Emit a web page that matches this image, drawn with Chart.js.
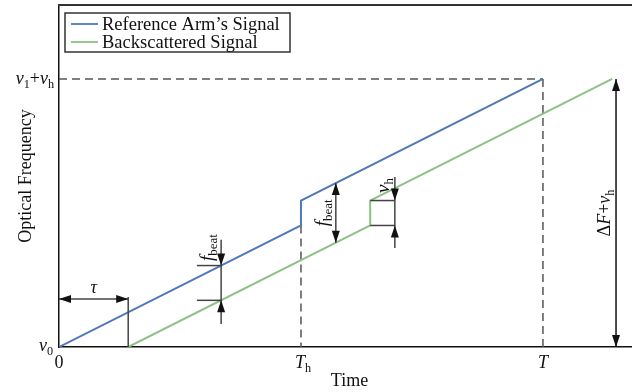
<!DOCTYPE html>
<html lang="en">
<head>
  <meta charset="UTF-8" />
  <title>Optical Frequency vs Time</title>
  <script src="https://cdn.jsdelivr.net/npm/chart.js"></script>
  <style>
    html, body { margin: 0; padding: 0; background: #fff; }
    #wrap { width: 632px; height: 392px; }
  </style>
</head>
<body>
  <div id="wrap"><canvas id="chirpChart" width="632" height="392"></canvas></div>

  <script>
    // time axis marks (T = 10, Th = T/2, tau = delay)
    const tau = 1.43;
    const timeTh = 5;
    const timeT = 10;
    const xTickLabels = ["0", "Th", "T"];

    // frequency marks (v0 = 0, v1 + vh = 10)
    const freqTop = 10;
    const freqHop = 0.93;

    // reference arm signal
    const refTimes = [0, 5, 5, 10];
    const refFreqs = [0, 4.535, 5.465, 10];

    // backscattered signal (delayed by tau)
    const backTimes = [1.43, 6.43, 6.43, 11.43];
    const backFreqs = [0, 4.535, 5.465, 10];

    const seriesNames = ["Reference Arm\u2019s Signal", "Backscattered Signal"];
    const blue = "#4f78b8";
    const green = "#8dc186";
    const serif = "'Liberation Serif', 'Times New Roman', serif";
    const fs = 18;

    function toPoints(xs, ys) {
      return xs.map((x, i) => ({ x: x, y: ys[i] }));
    }

    // value of a piecewise-linear series at time t
    function valueAt(xs, ys, t) {
      for (let i = 0; i < xs.length - 1; i++) {
        if (t >= xs[i] && t <= xs[i + 1] && xs[i + 1] > xs[i]) {
          return ys[i] + (ys[i + 1] - ys[i]) * (t - xs[i]) / (xs[i + 1] - xs[i]);
        }
      }
      return ys[ys.length - 1];
    }

    // text with italic/subscript parts, drawn from a start point
    function richText(ctx, parts, x, y, size, align) {
      let widths = parts.map(p => {
        ctx.font = (p.it ? "italic " : "") + (p.sub ? size * 0.68 : size) + "px " + serif;
        return ctx.measureText(p.t).width;
      });
      let total = widths.reduce((a, b) => a + b, 0);
      let cx = x;
      if (align === "center") cx = x - total / 2;
      if (align === "right") cx = x - total;
      parts.forEach((p, i) => {
        ctx.font = (p.it ? "italic " : "") + (p.sub ? size * 0.68 : size) + "px " + serif;
        ctx.textAlign = "left";
        ctx.textBaseline = "alphabetic";
        ctx.fillText(p.t, cx, p.sub ? y + size * 0.22 : y);
        cx += widths[i];
      });
    }

    function arrowHead(ctx, x, y, dir) {
      const len = 12, half = 4;
      ctx.beginPath();
      ctx.moveTo(x, y);
      if (dir === "down") { ctx.lineTo(x - half, y - len); ctx.lineTo(x + half, y - len); }
      if (dir === "up") { ctx.lineTo(x - half, y + len); ctx.lineTo(x + half, y + len); }
      if (dir === "left") { ctx.lineTo(x + len, y - half); ctx.lineTo(x + len, y + half); }
      if (dir === "right") { ctx.lineTo(x - len, y - half); ctx.lineTo(x - len, y + half); }
      ctx.closePath();
      ctx.fill();
    }

    function line(ctx, x1, y1, x2, y2) {
      ctx.beginPath();
      ctx.moveTo(x1, y1);
      ctx.lineTo(x2, y2);
      ctx.stroke();
    }

    const sketchPlugin = {
      id: "sketch",
      beforeDatasetsDraw(chart) {
        const ctx = chart.ctx;
        const xs = chart.scales.x, ys = chart.scales.y;
        const px = v => xs.getPixelForValue(v);
        const py = v => ys.getPixelForValue(v);
        ctx.save();
        ctx.strokeStyle = "#555";
        ctx.lineWidth = 1.5;
        ctx.setLineDash([8, 5]);
        line(ctx, px(0), py(freqTop), px(timeT), py(freqTop));
        line(ctx, px(timeT), py(freqTop), px(timeT), py(0));
        line(ctx, px(timeTh), py(valueAt(refTimes, refFreqs, timeTh - 0.001)), px(timeTh), py(0));
        ctx.restore();
      },
      afterDatasetsDraw(chart) {
        const ctx = chart.ctx;
        const area = chart.chartArea;
        const xs = chart.scales.x, ys = chart.scales.y;
        const px = v => xs.getPixelForValue(v);
        const py = v => ys.getPixelForValue(v);
        ctx.save();

        // frame: top border
        ctx.strokeStyle = "#333";
        ctx.lineWidth = 2;
        line(ctx, area.left - 1, area.top, area.right, area.top);

        ctx.strokeStyle = "#444";
        ctx.fillStyle = "#111";
        ctx.lineWidth = 1.5;

        // tau marker
        const tauY = 1.79;
        line(ctx, px(tau), py(0), px(tau), py(1.87));
        line(ctx, px(0), py(tauY), px(tau), py(tauY));
        arrowHead(ctx, px(0), py(tauY), "left");
        arrowHead(ctx, px(tau), py(tauY), "right");
        richText(ctx, [{ t: "\u03c4", it: true }], (px(0) + px(tau)) / 2, py(tauY) - 6, fs, "center");

        // f_beat marker before the hop
        const fb1 = 3.35;
        const fb1Ref = valueAt(refTimes, refFreqs, fb1);
        const fb1Back = valueAt(backTimes, backFreqs, fb1);
        line(ctx, px(fb1), py(4.0), px(fb1), py(0.86));
        line(ctx, px(fb1 - 0.5), py(fb1Ref), px(fb1), py(fb1Ref));
        line(ctx, px(fb1 - 0.5), py(fb1Back), px(fb1), py(fb1Back));
        arrowHead(ctx, px(fb1), py(fb1Ref), "down");
        arrowHead(ctx, px(fb1), py(fb1Back), "up");
        ctx.save();
        ctx.translate(px(fb1) - 8, py(fb1Ref) - 18);
        ctx.rotate(-Math.PI / 2);
        richText(ctx, [{ t: "f", it: true }, { t: "beat", sub: true }], 0, 0, fs + 1, "center");
        ctx.restore();

        // f_beat marker after the hop
        const fb2 = 5.72;
        const fb2Ref = valueAt(refTimes, refFreqs, fb2);
        const fb2Back = valueAt(backTimes, backFreqs, fb2);
        line(ctx, px(fb2), py(fb2Ref), px(fb2), py(fb2Back));
        arrowHead(ctx, px(fb2), py(fb2Ref), "up");
        arrowHead(ctx, px(fb2), py(fb2Back), "down");
        ctx.save();
        ctx.translate(px(fb2) - 8, (py(fb2Ref) + py(fb2Back)) / 2);
        ctx.rotate(-Math.PI / 2);
        richText(ctx, [{ t: "f", it: true }, { t: "beat", sub: true }], 0, 0, fs + 1, "center");
        ctx.restore();

        // vh marker at the backscattered hop
        const hopX = timeTh + tau;
        const vhX = 6.94;
        const hopLow = valueAt(backTimes, backFreqs, hopX - 0.001);
        const hopHigh = hopLow + freqHop;
        line(ctx, px(vhX), py(6.34), px(vhX), py(3.69));
        line(ctx, px(hopX), py(hopHigh), px(vhX), py(hopHigh));
        line(ctx, px(hopX), py(hopLow), px(vhX), py(hopLow));
        arrowHead(ctx, px(vhX), py(hopHigh), "down");
        arrowHead(ctx, px(vhX), py(hopLow), "up");
        ctx.save();
        ctx.translate(px(vhX) - 6, py(hopHigh) - 15);
        ctx.rotate(-Math.PI / 2);
        richText(ctx, [{ t: "\u03bd", it: true }, { t: "h", sub: true }], 0, 0, fs + 1, "center");
        ctx.restore();

        // total span marker
        const spanX = 11.51;
        ctx.strokeStyle = "#111";
        line(ctx, px(spanX), py(freqTop), px(spanX), py(0));
        arrowHead(ctx, px(spanX), py(freqTop), "up");
        arrowHead(ctx, px(spanX), py(0), "down");
        ctx.save();
        ctx.translate(px(spanX) - 6, (py(freqTop) + py(0)) / 2);
        ctx.rotate(-Math.PI / 2);
        richText(ctx, [{ t: "\u0394" }, { t: "F", it: true }, { t: "+" }, { t: "\u03bd", it: true }, { t: "h", sub: true }], 0, 0, fs, "center");
        ctx.restore();

        // tick labels
        ctx.fillStyle = "#111";
        richText(ctx, [{ t: "\u03bd", it: true }, { t: "1", sub: true }, { t: "+" }, { t: "\u03bd", it: true }, { t: "h", sub: true }], area.left - 5, py(freqTop) + 5, fs, "right");
        richText(ctx, [{ t: "\u03bd", it: true }, { t: "0", sub: true }], area.left - 6, py(0) + 4, fs, "right");
        const xTickValues = [0, timeTh, timeT];
        xTickLabels.forEach((lab, i) => {
          let parts;
          if (lab === "Th") parts = [{ t: "T", it: true }, { t: "h", sub: true }];
          else if (lab === "T") parts = [{ t: "T", it: true }];
          else parts = [{ t: lab }];
          richText(ctx, parts, px(xTickValues[i]) + (lab === "Th" ? 2 : 0), area.bottom + 21, fs, "center");
        });

        // axis titles
        richText(ctx, [{ t: "Time" }], (area.left + area.right) / 2 + 4, area.bottom + 39, fs, "center");
        ctx.save();
        ctx.translate(31, 176);
        ctx.rotate(-Math.PI / 2);
        richText(ctx, [{ t: "Optical Frequency" }], 0, 0, fs, "center");
        ctx.restore();

        // legend
        const lx = area.left + 6, ly = area.top + 8;
        ctx.strokeStyle = "#333";
        ctx.lineWidth = 1.5;
        ctx.strokeRect(lx, ly, 225, 39);
        [blue, green].forEach((c, i) => {
          ctx.strokeStyle = c;
          ctx.lineWidth = 1.8;
          line(ctx, lx + 6, ly + 11 + i * 18, lx + 33, ly + 11 + i * 18);
          ctx.fillStyle = "#111";
          richText(ctx, [{ t: seriesNames[i] }], lx + 37, ly + 17 + i * 18, fs + 0.5, "left");
        });

        ctx.restore();
      }
    };

    function generateChart() {
      const ctx = document.getElementById("chirpChart").getContext("2d");

      new Chart(ctx, {
        type: "line",
        data: {
          datasets: [{
            label: seriesNames[0],
            data: toPoints(refTimes, refFreqs),
            borderColor: blue,
            borderWidth: 2,
            pointRadius: 0,
            tension: 0
          }, {
            label: seriesNames[1],
            data: toPoints(backTimes, backFreqs),
            borderColor: green,
            borderWidth: 2,
            pointRadius: 0,
            tension: 0
          }]
        },
        options: {
          responsive: false,
          animation: false,
          layout: { padding: { top: 5, right: 0, left: 0, bottom: 0 } },
          scales: {
            x: {
              type: "linear",
              min: 0,
              max: 11.84,
              grid: { display: false },
              ticks: { display: false },
              border: { display: true, color: "#111", width: 1.5 },
              afterFit: s => { s.height = 45; }
            },
            y: {
              min: 0,
              max: 12.76,
              grid: { display: false },
              ticks: { display: false },
              border: { display: true, color: "#111", width: 1.5 },
              afterFit: s => { s.width = 59; }
            }
          },
          plugins: {
            legend: { display: false },
            tooltip: { enabled: false }
          }
        },
        plugins: [sketchPlugin]
      });
    }

    document.addEventListener("DOMContentLoaded", generateChart);
  </script>
</body>
</html>
